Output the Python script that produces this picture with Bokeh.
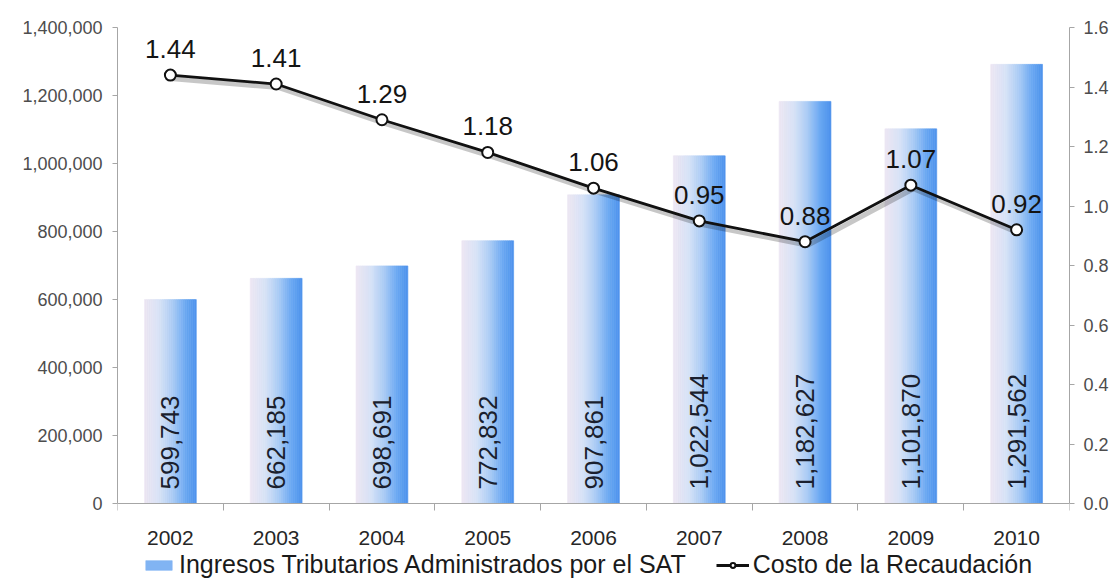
import numpy as np
from bokeh.plotting import figure
from bokeh.models import (ColumnDataSource, Range1d, LinearAxis, FixedTicker,
                          NumeralTickFormatter, Legend, LegendItem)
from bokeh.transform import dodge
from bokeh.core.properties import value
from bokeh.embed import file_html
from bokeh.resources import INLINE

# ---------------- data ----------------
years = ["2002", "2003", "2004", "2005", "2006", "2007", "2008", "2009", "2010"]
ingresos = [599743, 662185, 698691, 772832, 907861, 1022544, 1182627, 1101870, 1291562]
costo = [1.44, 1.41, 1.29, 1.18, 1.06, 0.95, 0.88, 1.07, 0.92]
left_ticks = [0, 200000, 400000, 600000, 800000, 1000000, 1200000, 1400000]
right_ticks = [0.0, 0.2, 0.4, 0.6, 0.8, 1.0, 1.2, 1.4, 1.6]
serie_barras = "Ingresos Tributarios Administrados por el SAT"
serie_linea = "Costo de la Recaudación"

FONT = "Liberation Sans"
W, H = 1115, 579
TOP, LEFT, RIGHT = 27, 117, 46
AXIS_PX = 476               # pixel height of the value axes
below_px = H - TOP - AXIS_PX  # room under the zero line for labels + legend

lmax = left_ticks[-1]
rmax = right_ticks[-1]
p = figure(width=W, height=H, output_backend="svg", toolbar_location=None,
           x_range=Range1d(-0.5, len(years) - 0.5),
           y_range=Range1d(-lmax * below_px / AXIS_PX, lmax),
           min_border_left=LEFT, min_border_right=RIGHT, min_border_top=TOP,
           min_border_bottom=0)
p.extra_y_ranges = {"cost": Range1d(-rmax * below_px / AXIS_PX, rmax)}
p.outline_line_color = None
p.grid.visible = False
p.background_fill_color = "white"
p.border_fill_color = "white"

xs = np.arange(len(years))
AX = "#a6a6a6"

# ---------------- axes ----------------
xa = p.xaxis[0]
xa.fixed_location = 0
xa.ticker = FixedTicker(ticks=list(xs), minor_ticks=[i - 0.5 for i in range(len(years) + 1)])
xa.major_label_overrides = {int(i): y for i, y in zip(xs, years)}
xa.major_tick_line_color = None
xa.major_tick_out = 7
xa.major_tick_in = 0
xa.minor_tick_in = 0
xa.minor_tick_out = 7
xa.minor_tick_line_color = AX
xa.axis_line_color = AX
xa.major_label_text_font = FONT
xa.major_label_text_font_size = "21px"
xa.major_label_text_color = "#262626"
xa.major_label_standoff = 20

ya = p.yaxis[0]
ya.bounds = (left_ticks[0], lmax)
ya.ticker = FixedTicker(ticks=left_ticks)
ya.formatter = NumeralTickFormatter(format="0,0")
ya.minor_tick_line_color = None
ya.major_tick_in = 0
ya.major_tick_out = 5
ya.major_tick_line_color = AX
ya.axis_line_color = AX
ya.major_label_text_font = FONT
ya.major_label_text_font_size = "18px"
ya.major_label_text_color = "#4d4d4d"
ya.major_label_standoff = 10

ra = LinearAxis(y_range_name="cost", ticker=FixedTicker(ticks=right_ticks),
                formatter=NumeralTickFormatter(format="0.0"),
                bounds=(right_ticks[0], rmax))
ra.minor_tick_line_color = None
ra.major_tick_in = 0
ra.major_tick_out = 5
ra.major_tick_line_color = AX
ra.axis_line_color = AX
ra.major_label_text_font = FONT
ra.major_label_text_font_size = "18px"
ra.major_label_text_color = "#4d4d4d"
ra.major_label_standoff = 9
p.add_layout(ra, "right")

# ---------------- gradient bars ----------------
N = 26
bw = 0.49
stops_t = [0.0, 0.3, 0.55, 0.8, 1.0]
stops_rgb = np.array([[238, 230, 243], [214, 226, 246], [170, 203, 245],
                      [106, 168, 242], [77, 146, 236]], dtype=float)

L, R, T, C = [], [], [], []
for i, v in zip(xs, ingresos):
    for j in range(N):
        t = (j + 0.5) / N
        rgb = [np.interp(t, stops_t, stops_rgb[:, k]) for k in range(3)]
        col = "#%02x%02x%02x" % tuple(int(round(c)) for c in rgb)
        L.append(i - bw / 2 + j * bw / N)
        R.append(i - bw / 2 + (j + 1) * bw / N)
        T.append(v)
        C.append(col)
strips = ColumnDataSource(dict(left=L, right=R, top=T, color=C))
bar_r = p.quad(left="left", right="right", top="top", bottom=0, source=strips,
               fill_color="color", line_color="color", line_width=0.6)

# value labels inside bars
bsrc = ColumnDataSource(dict(x=xs, y=[0] * len(xs), t=[f"{v:,}" for v in ingresos]))
p.text(x="x", y="y", text="t", source=bsrc, angle=np.pi / 2, text_align="left",
       text_baseline="middle", y_offset=-14, text_font=value(FONT),
       text_font_size="26px", text_color="#1a1f2e")

# ---------------- line ----------------
lsrc = ColumnDataSource(dict(x=xs, y=costo, t=[f"{v:.2f}" for v in costo]))
p.line(x=dodge("x", 0.025), y=dodge("y", -0.012), source=lsrc, y_range_name="cost",
       line_color="#000000", line_alpha=0.22, line_width=5)
line_r = p.line(x="x", y="y", source=lsrc, y_range_name="cost",
                line_color="#111111", line_width=2.8)
pt_r = p.scatter(x="x", y="y", source=lsrc, y_range_name="cost", size=11,
                 fill_color="white", line_color="#111111", line_width=2)
p.text(x="x", y="y", text="t", source=lsrc, y_range_name="cost",
       text_align="center", text_baseline="bottom", y_offset=-17,
       text_font=value(FONT), text_font_size="26px", text_color="#141414")

# ---------------- legend ----------------
legend = Legend(items=[
    LegendItem(label=serie_barras, renderers=[bar_r], index=int(0.72 * N)),
    LegendItem(label=serie_linea, renderers=[line_r, pt_r]),
], orientation="horizontal", location=(25, 0), border_line_color=None,
    background_fill_alpha=0, padding=0, margin=0, spacing=30, label_standoff=4,
    glyph_width=33, glyph_height=12, label_text_font=FONT,
    label_text_font_size="25px", label_text_color="#1a1a1a")
p.add_layout(legend, "center")

open("out.html", "w").write(file_html(p, INLINE))
